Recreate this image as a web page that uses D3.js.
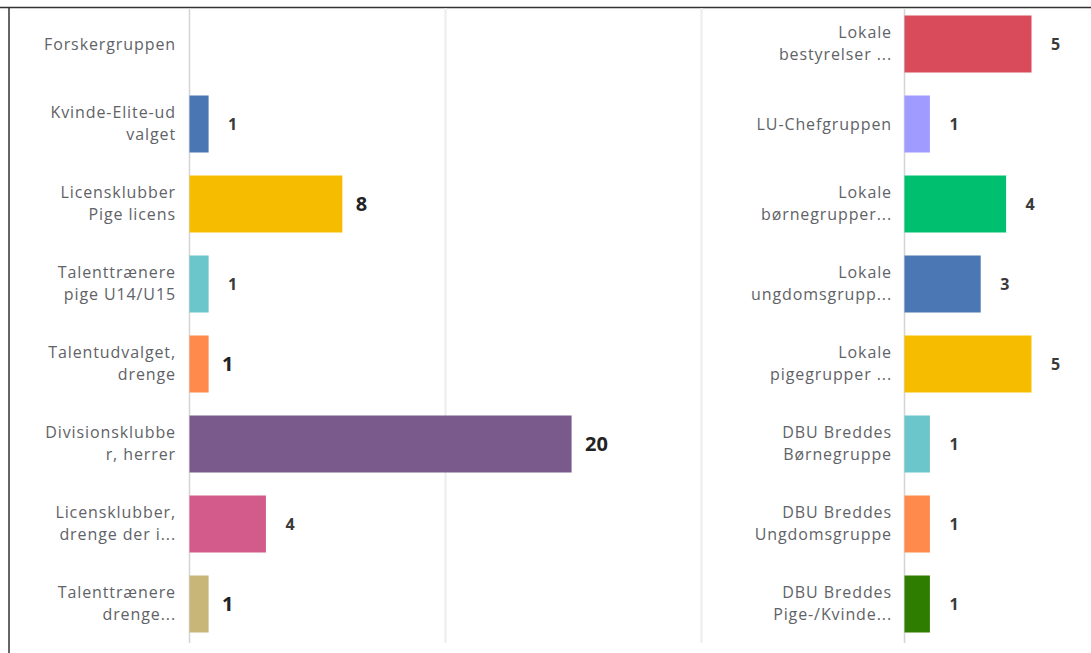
<!DOCTYPE html>
<html>
<head>
<meta charset="utf-8">
<script src="https://cdn.jsdelivr.net/npm/d3@7"></script>
<style>
	body { margin: 0; background: #fff; }
	svg { display: block; font-family: 'Open Sans', 'Noto Sans', sans-serif; }
</style>
</head>
<body>
<div id="chart"></div>
<script>
// left panel
const leftCategories = [
	['Forskergruppen'],
	['Kvinde-Elite-ud', 'valget'],
	['Licensklubber', 'Pige licens'],
	['Talenttrænere', 'pige U14/U15'],
	['Talentudvalget,', 'drenge'],
	['Divisionsklubbe', 'r, herrer'],
	['Licensklubber,', 'drenge der i...'],
	['Talenttrænere', 'drenge...'],
];
const leftValues = [null, 1, 8, 1, 1, 20, 4, 1];
const leftColors = ['#4a76b4', '#4a76b4', '#f6bd00', '#6ac6ca', '#ff8a4b', '#7a5a8d', '#d35b8c', '#c8b679'];

// right panel
const rightCategories = [
	['Lokale', 'bestyrelser ...'],
	['LU-Chefgruppen'],
	['Lokale', 'børnegrupper...'],
	['Lokale', 'ungdomsgrupp...'],
	['Lokale', 'pigegrupper ...'],
	['DBU Breddes', 'Børnegruppe'],
	['DBU Breddes', 'Ungdomsgruppe'],
	['DBU Breddes', 'Pige-/Kvinde...'],
];
const rightValues = [5, 1, 4, 3, 5, 1, 1, 1];
const rightColors = ['#d94b5b', '#a09bff', '#00bf6f', '#4b77b4', '#f6bd00', '#6ac6ca', '#ff8a4b', '#2e7d00'];

const width = 1091;
const height = 653;

const svg = d3.select('#chart').append('svg')
		.attr('width', width)
		.attr('height', height);

// frame (screenshot border: top and left only)
svg.append('line').attr('x1', 0).attr('x2', width).attr('y1', 7.5).attr('y2', 7.5)
		.attr('stroke', '#333').attr('stroke-width', 1.5);
svg.append('line').attr('x1', 9).attr('x2', 9).attr('y1', 7).attr('y2', height)
		.attr('stroke', '#333').attr('stroke-width', 1.5);

const yScale = d3.scaleBand()
		.domain(d3.range(8))
		.range([4, 644])
		.paddingInner(0.2875)
		.paddingOuter(0.14375);

// left x scale: 20 -> 571
const xLeft = d3.scaleLinear().domain([0, 26.8]).range([189, 701]);
// right x scale
const xRight = d3.scaleLinear().domain([0, 5]).range([904, 1031]);

const bigLeftLabels = new Set([2, 4, 5, 7]);

function panel(opts) {
	const g = svg.append('g');
	const x = opts.x;
	const x0 = x(0);

	// gridlines
	g.selectAll('.grid')
			.data(opts.grid)
		.enter().append('line')
			.attr('x1', (d) => Math.round(x(d)) + 0.5)
			.attr('x2', (d) => Math.round(x(d)) + 0.5)
			.attr('y1', 8)
			.attr('y2', 643)
			.attr('stroke', (d) => d === 0 ? '#d4d4d4' : '#ececec')
			.attr('stroke-width', (d) => d === 0 ? 1.5 : 2);

	const rows = opts.values.map((v, i) => ({v: v, i: i, lines: opts.categories[i], color: opts.colors[i]}));

	g.selectAll('.bar')
			.data(rows.filter((d) => d.v))
		.enter().append('rect')
			.attr('x', x0 + 0.5)
			.attr('y', (d) => yScale(d.i))
			.attr('width', (d) => x(d.v) - x0)
			.attr('height', yScale.bandwidth())
			.attr('fill', (d) => d.color);

	// category labels
	const lbl = g.selectAll('.cat')
			.data(rows)
		.enter().append('text')
			.attr('x', opts.labelX)
			.attr('y', (d) => yScale(d.i) + yScale.bandwidth() / 2)
			.attr('text-anchor', 'end')
			.style('font-size', '16px')
			.style('letter-spacing', '0.9px')
			.style('fill', '#5f6367');
	lbl.selectAll('tspan')
			.data((d) => d.lines.map((t, k) => ({t: t, k: k, n: d.lines.length})))
		.enter().append('tspan')
			.attr('x', opts.labelX)
			.attr('dy', (d) => d.k === 0 ? (d.n === 1 ? '0.35em' : '-0.35em') : '22px')
			.text((d) => d.t);

	// value labels
	g.selectAll('.val')
			.data(rows.filter((d) => d.v))
		.enter().append('text')
			.attr('x', (d) => x(d.v) + (opts.big(d.i) ? 14 : 20))
			.attr('y', (d) => yScale(d.i) + yScale.bandwidth() / 2)
			.attr('dy', '0.35em')
			.style('font-size', (d) => opts.big(d.i) ? '20px' : '16px')
			.style('font-weight', 'bold')
			.style('fill', (d) => opts.big(d.i) ? '#222' : '#3a3a3a')
			.text((d) => d.v);
}

panel({
	x: xLeft,
	grid: [0, 13.4, 26.8],
	values: leftValues,
	categories: leftCategories,
	colors: leftColors,
	labelX: 176,
	big: (i) => bigLeftLabels.has(i),
});

panel({
	x: xRight,
	grid: [0],
	values: rightValues,
	categories: rightCategories,
	colors: rightColors,
	labelX: 892,
	big: () => false,
});
</script>
</body>
</html>
